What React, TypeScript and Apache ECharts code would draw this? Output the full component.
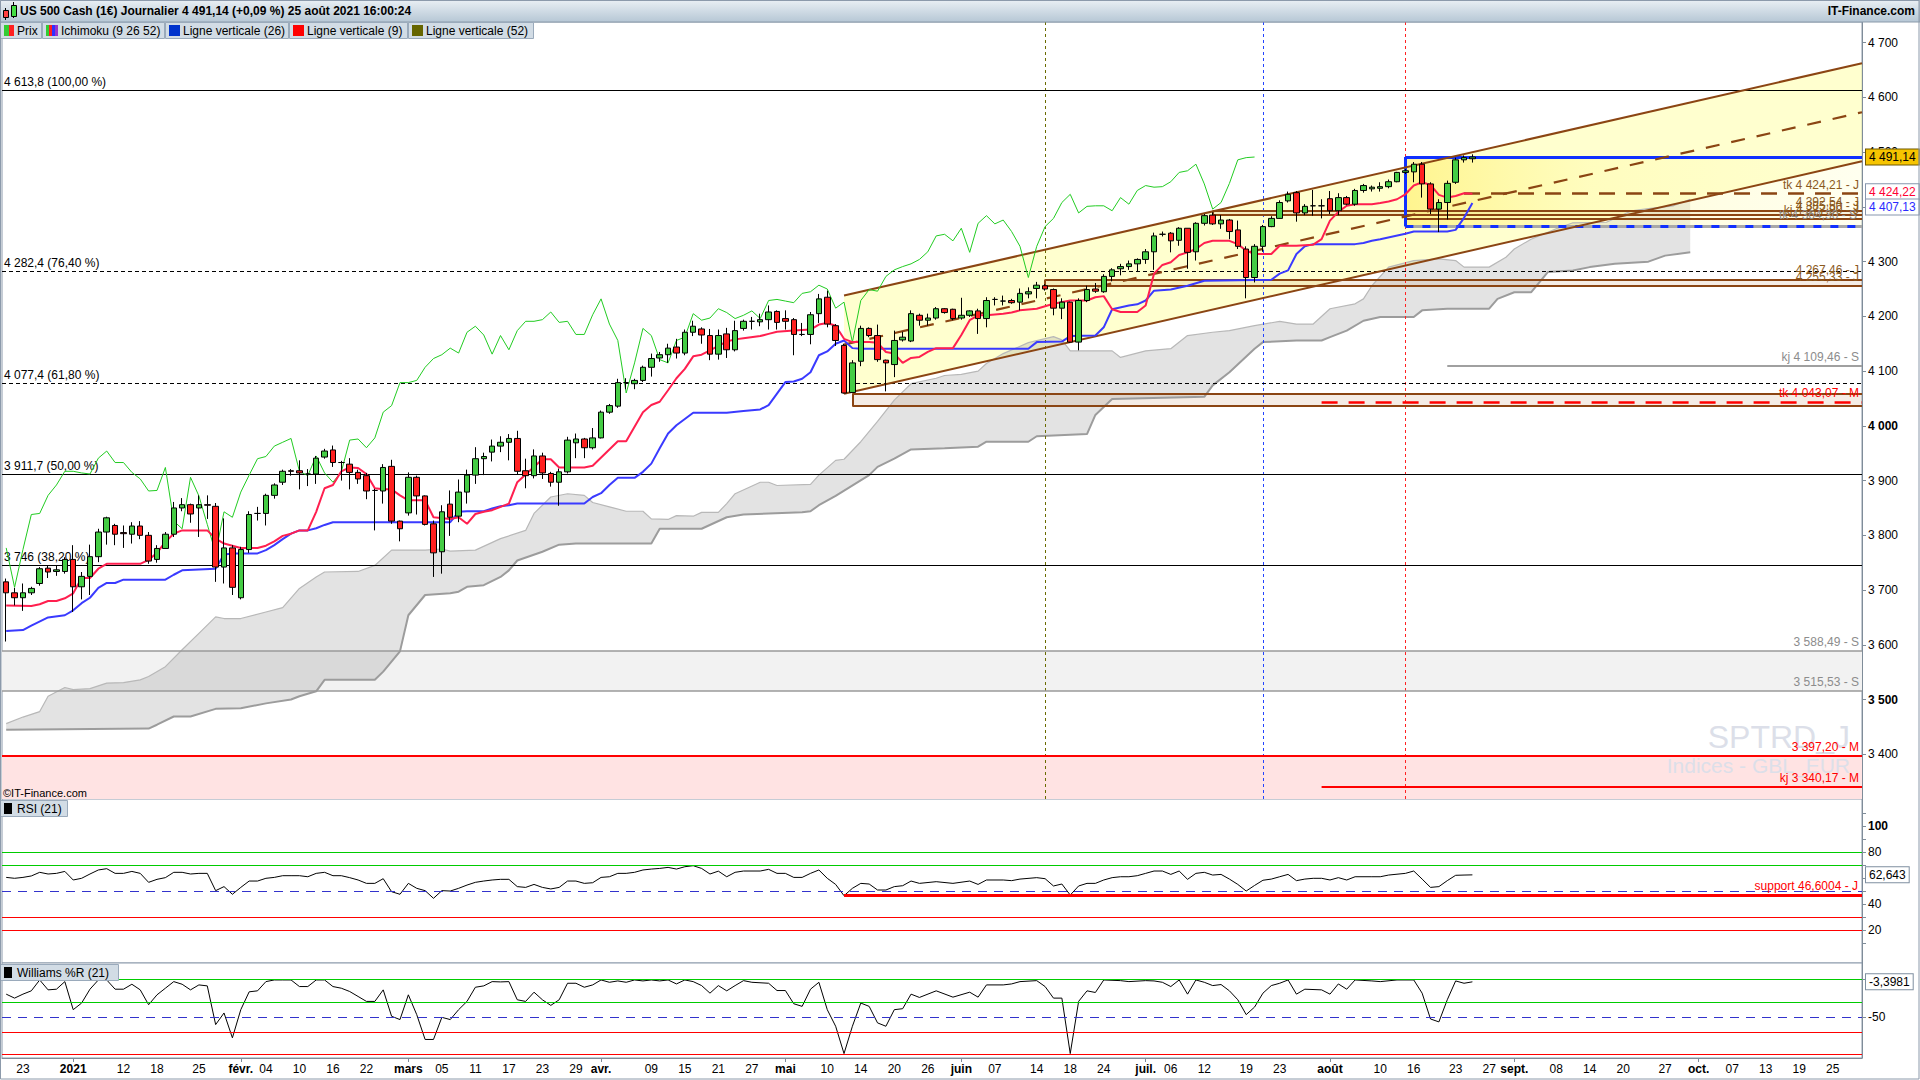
import React, { useEffect, useRef } from "react";
import * as echarts from "echarts";

const FONT = '"Liberation Sans", Arial, Helvetica, sans-serif';
const BROWN = "#8b4513";
const BROWN_TXT = "#8b5a1e";

// ---------- axis / calendar ----------
const HOLIDAYS = ["2020-12-25", "2021-01-01"];
const FIRST_DAY = [2020, 11, 21];
const LAST_DAY = [2021, 9, 28];
const FIRST_X = -2; // x index of 2020-12-21 (0 = 2020-12-23)
const X_MIN = -2.5;
const X_MAX = 219.5;
const CHIKOU_SHIFT = 26;

const dateTicks: [string, string, boolean][] = [
  ["2020-12-23", "23", false], ["2021-01-04", "2021", true], ["2021-01-12", "12", false], ["2021-01-18", "18", false], ["2021-01-25", "25", false],
  ["2021-02-01", "févr.", true], ["2021-02-04", "04", false], ["2021-02-10", "10", false], ["2021-02-16", "16", false], ["2021-02-22", "22", false],
  ["2021-03-01", "mars", true], ["2021-03-05", "05", false], ["2021-03-11", "11", false], ["2021-03-17", "17", false], ["2021-03-23", "23", false], ["2021-03-29", "29", false],
  ["2021-04-01", "avr.", true], ["2021-04-09", "09", false], ["2021-04-15", "15", false], ["2021-04-21", "21", false], ["2021-04-27", "27", false],
  ["2021-05-03", "mai", true], ["2021-05-10", "10", false], ["2021-05-14", "14", false], ["2021-05-20", "20", false], ["2021-05-26", "26", false],
  ["2021-06-01", "juin", true], ["2021-06-07", "07", false], ["2021-06-14", "14", false], ["2021-06-18", "18", false], ["2021-06-24", "24", false],
  ["2021-07-01", "juil.", true], ["2021-07-06", "06", false], ["2021-07-12", "12", false], ["2021-07-19", "19", false], ["2021-07-23", "23", false],
  ["2021-08-02", "août", true], ["2021-08-10", "10", false], ["2021-08-16", "16", false], ["2021-08-23", "23", false], ["2021-08-27", "27", false],
  ["2021-09-01", "sept.", true], ["2021-09-08", "08", false], ["2021-09-14", "14", false], ["2021-09-20", "20", false], ["2021-09-27", "27", false],
  ["2021-10-01", "oct.", true], ["2021-10-07", "07", false], ["2021-10-13", "13", false], ["2021-10-19", "19", false], ["2021-10-25", "25", false],
];

const priceTicks = [3400, 3500, 3600, 3700, 3800, 3900, 4000, 4100, 4200, 4300, 4400, 4500, 4600, 4700];
const priceBold = [3500, 4000];
const rsiTicks = [10, 20, 30, 40, 50, 60, 70, 80, 90, 100, 110];
const rsiLabels = [20, 40, 60, 80, 100];
const wrLabels = [0, -50];

// ---------- prices: [open, high, low, close] per trading day from 2020-12-21 ----------
const ohlc: number[][] = [
  [3715, 3721, 3606, 3695], [3695, 3704, 3672, 3686], [3686, 3712, 3662, 3695], [3695, 3706, 3691, 3703],
  [3712, 3742, 3708, 3739], [3740, 3745, 3722, 3733], [3734, 3745, 3726, 3737], [3734, 3760, 3730, 3756],
  [3756, 3782, 3660, 3706], [3706, 3733, 3683, 3725], [3725, 3783, 3691, 3761], [3761, 3812, 3751, 3806], [3806, 3834, 3783, 3832],
  [3818, 3821, 3782, 3802], [3805, 3818, 3777, 3803], [3802, 3824, 3785, 3817], [3817, 3826, 3793, 3800], [3800, 3806, 3748, 3753],
  [3756, 3782, 3750, 3776], [3776, 3806, 3776, 3802], [3802, 3861, 3797, 3850], [3850, 3868, 3844, 3856], [3856, 3858, 3823, 3839],
  [3850, 3873, 3797, 3856], [3856, 3873, 3830, 3855], [3853, 3859, 3715, 3742], [3742, 3831, 3712, 3777], [3777, 3782, 3691, 3705],
  [3686, 3779, 3683, 3774], [3774, 3844, 3768, 3838], [3840, 3852, 3827, 3840], [3840, 3876, 3818, 3873], [3873, 3895, 3867, 3892],
  [3897, 3920, 3892, 3917], [3918, 3921, 3909, 3917], [3918, 3937, 3884, 3914], [3912, 3921, 3890, 3912], [3912, 3945, 3894, 3941],
  [3943, 3958, 3940, 3954], [3956, 3964, 3925, 3933], [3933, 3936, 3900, 3933], [3930, 3941, 3884, 3915], [3915, 3920, 3894, 3903],
  [3909, 3914, 3866, 3881], [3882, 3885, 3809, 3882], [3881, 3930, 3858, 3924], [3926, 3938, 3821, 3826], [3826, 3827, 3789, 3812],
  [3841, 3915, 3836, 3906], [3906, 3909, 3838, 3872], [3872, 3873, 3818, 3820], [3821, 3827, 3724, 3768], [3770, 3855, 3730, 3843],
  [3857, 3882, 3799, 3833], [3835, 3902, 3824, 3879], [3879, 3920, 3858, 3910], [3910, 3961, 3894, 3940], [3940, 3951, 3910, 3944],
  [3952, 3975, 3935, 3963], [3963, 3981, 3952, 3970], [3970, 3985, 3937, 3977], [3977, 3991, 3912, 3917], [3918, 3940, 3886, 3909],
  [3909, 3957, 3904, 3945], [3945, 3951, 3903, 3914], [3913, 3916, 3889, 3897], [3897, 3922, 3854, 3916], [3916, 3980, 3913, 3974],
  [3969, 3986, 3941, 3976], [3976, 3978, 3941, 3960], [3960, 3996, 3957, 3978], [3978, 4028, 3977, 4025], [4025, 4040, 4022, 4037],
  [4036, 4086, 4033, 4079], [4079, 4087, 4067, 4079], [4077, 4086, 4067, 4083], [4083, 4110, 4080, 4107], [4107, 4132, 4090, 4123],
  [4124, 4135, 4117, 4130], [4130, 4150, 4115, 4142], [4144, 4159, 4123, 4133], [4133, 4176, 4129, 4171], [4171, 4192, 4164, 4182],
  [4177, 4180, 4150, 4166], [4165, 4177, 4120, 4131], [4131, 4176, 4121, 4165], [4168, 4179, 4124, 4139], [4139, 4192, 4136, 4174],
  [4178, 4194, 4174, 4191], [4191, 4199, 4176, 4191], [4190, 4205, 4182, 4194], [4194, 4220, 4176, 4208], [4209, 4211, 4176, 4189],
  [4196, 4211, 4176, 4191], [4194, 4197, 4129, 4167], [4167, 4188, 4164, 4167], [4167, 4208, 4149, 4203], [4205, 4241, 4188, 4232],
  [4235, 4247, 4180, 4186], [4183, 4186, 4146, 4156], [4147, 4150, 4059, 4060], [4061, 4120, 4061, 4115], [4118, 4183, 4109, 4178],
  [4178, 4180, 4162, 4165], [4165, 4185, 4117, 4121], [4120, 4121, 4063, 4115], [4112, 4174, 4089, 4156], [4157, 4172, 4154, 4162],
  [4155, 4211, 4153, 4205], [4202, 4205, 4183, 4193], [4193, 4205, 4183, 4197], [4197, 4217, 4194, 4214], [4214, 4215, 4205, 4207],
  [4213, 4214, 4193, 4196], [4197, 4234, 4194, 4202], [4202, 4211, 4199, 4210], [4210, 4214, 4168, 4196], [4196, 4235, 4180, 4229],
  [4231, 4235, 4220, 4231], [4228, 4238, 4220, 4228], [4229, 4232, 4223, 4225], [4226, 4251, 4211, 4242], [4241, 4253, 4233, 4245],
  [4251, 4263, 4233, 4257], [4256, 4259, 4247, 4250], [4249, 4251, 4202, 4215], [4215, 4233, 4195, 4226], [4226, 4227, 4152, 4153],
  [4153, 4233, 4138, 4229], [4229, 4256, 4226, 4249], [4250, 4261, 4243, 4246], [4245, 4277, 4243, 4273], [4273, 4288, 4264, 4285],
  [4287, 4296, 4275, 4291], [4291, 4302, 4285, 4296], [4296, 4306, 4281, 4304], [4304, 4323, 4296, 4318], [4318, 4353, 4285, 4347],
  [4350, 4355, 4346, 4350], [4352, 4354, 4317, 4338], [4339, 4363, 4329, 4361], [4361, 4361, 4287, 4317], [4318, 4372, 4302, 4370],
  [4370, 4387, 4366, 4384], [4385, 4390, 4367, 4369], [4369, 4385, 4360, 4376], [4376, 4378, 4341, 4355], [4358, 4375, 4323, 4328],
  [4323, 4328, 4233, 4271], [4271, 4332, 4262, 4328], [4328, 4367, 4318, 4364], [4364, 4383, 4363, 4379], [4379, 4412, 4378, 4408],
  [4411, 4428, 4408, 4423], [4426, 4429, 4373, 4389], [4389, 4405, 4385, 4401], [4402, 4431, 4384, 4402], [4402, 4414, 4379, 4402],
  [4415, 4429, 4387, 4393], [4393, 4425, 4385, 4417], [4417, 4420, 4403, 4405], [4405, 4433, 4402, 4430], [4430, 4442, 4426, 4439],
  [4433, 4439, 4428, 4436], [4434, 4445, 4428, 4437], [4437, 4450, 4434, 4446], [4446, 4464, 4445, 4463], [4463, 4469, 4460, 4466],
  [4464, 4482, 4445, 4478], [4478, 4482, 4417, 4442], [4442, 4445, 4387, 4396], [4396, 4414, 4354, 4408], [4408, 4448, 4377, 4443],
  [4445, 4490, 4442, 4486], [4486, 4494, 4481, 4490], [4488, 4496, 4481, 4491.14],
];

// ---------- Ichimoku (vertices, [x, value]) ----------
const tenkan = [
  [-2, 3672], [1, 3671], [2, 3674], [3, 3680], [4, 3680], [5, 3685], [6, 3694], [7, 3722], [8, 3722], [9, 3739], [10, 3748], [14, 3748],
  [15, 3755], [16, 3768], [17, 3788], [18, 3803], [19, 3809], [22, 3809], [23, 3794], [24, 3785], [26, 3777], [28, 3777], [29, 3781],
  [30, 3789], [31, 3799], [32, 3803], [33, 3809], [34, 3809], [35, 3843], [36, 3886], [37, 3892], [38, 3917], [39, 3924], [40, 3923],
  [41, 3912], [42, 3886], [43, 3884], [44, 3884], [45, 3873], [46, 3864], [48, 3864], [49, 3833], [51, 3830], [52, 3833], [53, 3821],
  [54, 3839], [55, 3843], [56, 3846], [58, 3858], [59, 3897], [60, 3911], [62, 3939], [63, 3939], [64, 3924], [67, 3924], [68, 3927],
  [71, 3972], [72, 3972], [74, 4025], [75, 4038], [76, 4044], [77, 4065], [78, 4087], [79, 4104], [80, 4127], [81, 4130], [82, 4138],
  [83, 4146], [84, 4154], [85, 4158], [86, 4160], [88, 4164], [89, 4168], [90, 4172], [92, 4174], [94, 4176], [95, 4185], [96, 4188],
  [97, 4183], [98, 4159], [99, 4153], [101, 4153], [102, 4152], [103, 4135], [104, 4132], [105, 4115], [106, 4124], [107, 4126],
  [108, 4135], [109, 4142], [111, 4142], [112, 4166], [113, 4193], [114, 4202], [115, 4202], [117, 4205], [118, 4207], [119, 4211],
  [121, 4214], [123, 4223], [125, 4229], [127, 4229], [128, 4235], [129, 4237], [130, 4213], [131, 4208], [133, 4208], [134, 4220],
  [135, 4278], [136, 4294], [137, 4299], [138, 4312], [139, 4317], [140, 4323], [141, 4334], [142, 4338], [144, 4338], [145, 4332],
  [146, 4320], [147, 4314], [149, 4314], [150, 4329], [152, 4329], [154, 4331], [155, 4341], [156, 4375], [157, 4391], [158, 4402],
  [159, 4405], [161, 4405], [162, 4407], [163, 4410], [164, 4414], [165, 4423], [166, 4439], [167, 4445], [168, 4440], [169, 4422],
  [170, 4417], [171, 4420], [172, 4425], [173, 4424.22],
];
const kijun = [
  [-2, 3625], [0, 3627], [1, 3635], [3, 3650], [5, 3654], [6, 3663], [7, 3676], [8, 3686], [9, 3704], [10, 3713], [11, 3713], [12, 3719],
  [17, 3719], [18, 3728], [19, 3736], [23, 3739], [24, 3765], [25, 3767], [28, 3767], [29, 3773], [30, 3782], [31, 3793], [32, 3803],
  [33, 3809], [34, 3809], [35, 3813], [36, 3819], [37, 3824], [51, 3824], [52, 3843], [53, 3844], [55, 3844], [56, 3849], [57, 3853],
  [58, 3855], [59, 3858], [67, 3858], [68, 3870], [69, 3877], [70, 3892], [71, 3905], [73, 3905], [74, 3916], [75, 3931], [76, 3959],
  [77, 3986], [78, 4001], [80, 4024], [84, 4024], [86, 4027], [88, 4030], [89, 4038], [90, 4059], [91, 4080], [92, 4081], [93, 4086],
  [94, 4098], [95, 4129], [96, 4136], [97, 4150], [98, 4156], [99, 4142], [100, 4141], [120, 4141], [121, 4153], [124, 4154], [125, 4164],
  [128, 4165], [129, 4180], [130, 4213], [132, 4220], [133, 4222], [134, 4229], [135, 4247], [137, 4249], [139, 4256], [141, 4265],
  [149, 4267], [150, 4278], [151, 4284], [152, 4314], [153, 4328], [154, 4332], [159, 4332], [160, 4334], [161, 4338], [162, 4341],
  [165, 4351], [166, 4355], [170, 4355], [171, 4358], [172, 4380], [173, 4407.13],
];
const cloudUpper = [
  [-2, 3456], [0, 3468], [2, 3478], [3, 3506], [5, 3522], [6, 3518], [8, 3520], [10, 3530], [12, 3531], [14, 3536], [15, 3542], [17, 3560],
  [19, 3591], [21, 3621], [23, 3651], [24, 3648], [26, 3648], [29, 3660], [31, 3668], [33, 3703], [35, 3724], [36, 3733], [40, 3734],
  [42, 3745], [44, 3773], [48, 3773], [50, 3775], [51, 3771], [54, 3773], [57, 3794], [60, 3809], [61, 3840], [63, 3870], [65, 3876],
  [67, 3873], [68, 3860], [70, 3852], [72, 3844], [74, 3844], [75, 3830], [77, 3829], [78, 3836], [80, 3835], [81, 3842], [83, 3842],
  [84, 3858], [85, 3876], [88, 3897], [89, 3897], [90, 3891], [94, 3893], [95, 3910], [97, 3937], [98, 3939], [100, 3971], [102, 4008],
  [104, 4047], [106, 4077], [109, 4087], [110, 4092], [112, 4094], [114, 4100], [115, 4114], [117, 4132], [120, 4152], [123, 4163],
  [124, 4157], [125, 4137], [130, 4137], [131, 4125], [134, 4137], [137, 4141], [139, 4165], [142, 4171], [144, 4174], [147, 4183],
  [150, 4191], [152, 4186], [154, 4186], [156, 4214], [159, 4223], [160, 4232], [161, 4256], [163, 4290], [166, 4302], [169, 4305],
  [171, 4302], [172, 4290], [175, 4290], [177, 4308], [178, 4323], [180, 4341], [183, 4360], [185, 4371], [189, 4372], [192, 4393],
  [194, 4397], [197, 4402], [199, 4414],
];
const cloudLower = [
  [-2, 3445], [15, 3447], [16, 3454], [18, 3469], [20, 3469], [23, 3483], [26, 3484], [29, 3493], [32, 3500], [33, 3506], [35, 3515],
  [36, 3536], [42, 3536], [43, 3551], [45, 3588], [46, 3654], [48, 3691], [51, 3694], [52, 3697], [53, 3706], [55, 3709], [57, 3724],
  [58, 3736], [59, 3754], [62, 3770], [64, 3783], [66, 3785], [75, 3785], [76, 3812], [81, 3812], [84, 3833], [86, 3838], [93, 3842],
  [94, 3844], [95, 3855], [97, 3872], [101, 3910], [102, 3925], [104, 3940], [106, 3957], [110, 3959], [114, 3962], [115, 3971],
  [120, 3971], [121, 3981], [127, 3985], [128, 4020], [130, 4049], [141, 4053], [142, 4074], [144, 4098], [147, 4141], [148, 4153],
  [152, 4156], [155, 4156], [156, 4162], [158, 4174], [160, 4192], [162, 4199], [166, 4199], [167, 4211], [170, 4214], [175, 4214],
  [176, 4232], [178, 4244], [180, 4244], [182, 4281], [185, 4284], [187, 4290], [190, 4296], [194, 4300], [196, 4311], [199, 4317],
];

// ---------- oscillators ----------
const rsi = [
  [-2, 60.7], [-1, 60], [0, 60.7], [1, 61.8], [2, 64.6], [3, 63.3], [4, 63.8], [5, 65.3], [6, 58.7], [7, 60], [8, 63.3], [9, 66.4], [10, 67.4],
  [11, 63.8], [12, 63.8], [13, 65.3], [14, 63.8], [15, 56.9], [16, 59.2], [17, 60.5], [18, 64.6], [19, 64.6], [20, 63.3], [21, 63.8],
  [22, 63.8], [23, 50.5], [24, 53.6], [25, 47.7], [26, 53], [27, 57.9], [28, 57.9], [29, 60], [30, 60.7], [31, 62], [32, 62], [33, 62],
  [34, 61.2], [35, 63.8], [36, 64.6], [37, 62], [38, 62], [39, 60.5], [40, 58.7], [41, 56.1], [42, 56.1], [43, 59.7], [44, 49.7], [45, 47.7],
  [46, 56.1], [47, 52.3], [48, 50.5], [49, 44.6], [50, 50.5], [51, 50.2], [52, 52.3], [53, 54.8], [54, 56.9], [55, 57.9], [56, 58.7],
  [57, 59.2], [58, 59.2], [59, 53.6], [60, 53], [61, 55.3], [62, 53], [63, 51.8], [64, 53], [65, 57.9], [66, 57.9], [67, 56.1], [68, 56.6],
  [69, 60.7], [70, 61.2], [71, 63.8], [72, 63.8], [73, 64.6], [74, 66.4], [75, 67.1], [76, 67.6], [77, 68.4], [78, 67.1], [79, 68.9],
  [80, 69.7], [81, 67.6], [82, 63.3], [83, 65.5], [84, 61.2], [85, 64.6], [86, 65.6], [88, 65.6], [89, 66.9], [90, 63.8], [91, 63.8],
  [92, 60.7], [93, 60.7], [94, 63.8], [95, 66.4], [96, 60], [97, 55.3], [98, 46.6], [99, 52.3], [100, 56.1], [101, 55.6], [102, 51],
  [103, 51], [104, 53.6], [105, 54.3], [106, 57.9], [107, 56.1], [109, 57.4], [111, 56.1], [113, 57.9], [114, 55.3], [115, 58.7],
  [117, 58.7], [118, 58.2], [119, 59.4], [121, 60.5], [122, 59.7], [123, 54.1], [124, 55.6], [125, 47.1], [126, 54.1], [127, 56.1],
  [128, 56.1], [129, 58.7], [130, 60.5], [131, 61.2], [132, 61.2], [133, 62], [134, 63.8], [135, 65.6], [136, 65.6], [137, 63], [138, 65.6],
  [139, 59.2], [140, 63.8], [141, 64.6], [142, 62.5], [143, 63], [144, 59.4], [145, 55.3], [146, 50.2], [147, 54.5], [148, 58.5],
  [149, 59.4], [150, 61.2], [151, 63], [152, 58.2], [153, 59.4], [154, 60], [155, 60], [156, 58.7], [157, 60.5], [158, 58.7], [159, 61.2],
  [161, 61.2], [162, 61.2], [163, 62.5], [165, 63.8], [166, 65.6], [167, 59.4], [168, 53], [169, 53.6], [170, 58.2], [171, 62.3],
  [172, 62.5], [173, 62.643],
];
const williams = [
  [-2, -19.8], [-1, -25.1], [0, -19.8], [1, -15.4], [2, -0.9], [3, -14.1], [4, -13.2], [5, -3.1], [6, -40.5], [7, -31.7], [8, -13.2],
  [9, -0.9], [10, -0.9], [11, -13.2], [12, -13.2], [13, -6.6], [14, -14.1], [15, -33.9], [16, -20.7], [17, -11.9], [18, -3.1], [19, -6.6],
  [20, -14.1], [21, -7.5], [22, -8.8], [23, -60.4], [24, -44.9], [25, -78], [26, -40.5], [27, -16.7], [28, -15.4], [29, -3.1], [30, -0.9],
  [31, -0.9], [32, -0.9], [33, -9.7], [34, -9.7], [35, -0.9], [36, -0.9], [37, -9.7], [38, -11.9], [39, -16.3], [40, -22.9], [41, -29.5],
  [42, -29.5], [43, -14.1], [44, -49.3], [45, -53.7], [46, -20.7], [47, -47.1], [48, -80.2], [49, -80.2], [50, -50.7], [51, -53.7],
  [52, -40.5], [53, -29.5], [54, -10.6], [55, -8.8], [56, -3.1], [57, -3.5], [58, -3.1], [59, -27.3], [60, -29.5], [61, -17.2], [62, -27.3],
  [63, -34.8], [64, -27.3], [65, -5.3], [66, -5.3], [67, -10.6], [68, -7.5], [69, -0.9], [70, -4], [71, -2.2], [72, -4], [73, -0.9],
  [74, -2.2], [75, -0.9], [76, -2.2], [77, -0.9], [78, -6.2], [79, -0.9], [80, -3.1], [81, -8.4], [82, -18.5], [83, -8.4], [84, -15.4],
  [85, -8.4], [86, -1.8], [87, -4], [89, -5.3], [90, -15], [91, -15], [92, -32.6], [93, -36.1], [94, -13.2], [95, -4], [96, -40.5],
  [97, -62.6], [98, -99], [99, -62.6], [100, -31.7], [101, -36.1], [102, -58.1], [103, -62.6], [104, -40.5], [105, -39.2], [106, -19.8],
  [107, -24.2], [109, -15.4], [111, -23.8], [113, -17.2], [114, -23.8], [115, -7.5], [117, -7.5], [118, -6.2], [119, -3.1], [121, -1.8],
  [122, -9.7], [123, -25.1], [124, -25.1], [125, -99], [126, -29.5], [127, -15.4], [128, -17.6], [129, -0.9], [131, -1.8], [132, -3.1],
  [134, -1.8], [135, -2.2], [136, -4], [137, -9.7], [138, -0.9], [139, -19.8], [140, -0.9], [141, -4], [142, -8.4], [143, -7], [144, -15.4],
  [145, -27.3], [146, -47.1], [147, -37], [148, -18.5], [149, -8.4], [150, -5.3], [151, -0.9], [152, -19.8], [153, -13.2], [155, -14.1],
  [156, -19.8], [157, -6.2], [158, -13.2], [159, -0.9], [161, -2.2], [162, -3.1], [164, -0.9], [166, -0.9], [167, -18.5], [168, -52.9],
  [169, -56.8], [170, -27.3], [171, -2.2], [172, -5.3], [173, -3.3981],
];

// ---------- drawn objects ----------
const channelUpper = [[98, 4238], [219.5, 4662.5]];
const channelMid = [[98, 4148.4], [219.5, 4572.9]];
const channelLower = [[98, 4058.8], [219.5, 4483.3]];

const fibLevels = [
  { value: 4613.8, text: "4 613,8 (100,00 %)", dashed: false },
  { value: 4282.4, text: "4 282,4 (76,40 %)", dashed: true },
  { value: 4077.4, text: "4 077,4 (61,80 %)", dashed: true },
  { value: 3911.7, text: "3 911,7 (50,00 %)", dashed: false },
  { value: 3746.0, text: "3 746 (38,20 %)", dashed: false },
];
const supportBand = { hi: 3588.49, lo: 3515.53, hiText: "3 588,49 - S", loText: "3 515,53 - S" };
const monthBand = { value: 3397.2, text: "3 397,20 - M" };
const segments = [
  { from: 155, value: 3340.17, text: "kj 3 340,17 - M", color: "#ff0000", textColor: "#ff0000", width: 2, dash: null },
  { from: 155, value: 4043.07, text: "tk 4 043,07 - M", color: "#ff0000", textColor: "#ff0000", width: 2.5, dash: [16, 11] },
  { from: 170, value: 4109.46, text: "kj 4 109,46 - S", color: "#a0a0a0", textColor: "#8c8c8c", width: 2, dash: null },
  { from: 165, value: 4377.9, text: "kj 4 377,90 - J", color: BROWN, textColor: BROWN_TXT, width: 2, dash: null },
  { from: 172, value: 4424.21, text: "tk 4 424,21 - J", color: BROWN, textColor: BROWN_TXT, width: 2.5, dash: [16, 11] },
];
const boxes = [
  { from: 99, lo: 4036, hi: 4059, loText: "", hiText: "" },
  { from: 122, lo: 4255.33, hi: 4267.46, loText: "4 255,33 - J", hiText: "4 267,46 - J" },
  { from: 142, lo: 4385.5, hi: 4392.54, loText: "4 385,50 - J", hiText: "4 392,54 - J" },
];
const lastBox = { from: 165, lo: 4364.3, hi: 4491.14, loText: "tk 4 364,30 - S" };
const verticalLines = [
  { x: 122, color: "#6b6b00" },
  { x: 148, color: "#2244ff" },
  { x: 165, color: "#ff2222" },
];
const priceTags = [
  { value: 4491.14, text: "4 491,14", color: "#000", bg: "#f6c400", border: "#6e5800", dy: 0 },
  { value: 4424.22, text: "4 424,22", color: "#ff0033", bg: "#ffffff", border: "#8796ad", dy: -2 },
  { value: 4407.13, text: "4 407,13", color: "#2b2bff", bg: "#ffffff", border: "#8796ad", dy: 4 },
];
const rsiTag = { value: 62.643, text: "62,643" };
const wrTag = { value: -3.3981, text: "-3,3981" };
const rsiLevels = [
  { value: 80, color: "#00cc00", dash: null }, { value: 70, color: "#00cc00", dash: null },
  { value: 50, color: "#3333cc", dash: [9, 7] },
  { value: 30, color: "#ff0000", dash: null }, { value: 20, color: "#ff0000", dash: null },
];
const rsiSupport = { from: 98, value: 46.6004, text: "support 46,6004 - J" };
const wrLevels = [
  { value: 0, color: "#00cc00", dash: null }, { value: -30, color: "#00cc00", dash: null },
  { value: -50, color: "#3333cc", dash: [9, 7] },
  { value: -70, color: "#ff0000", dash: null }, { value: -100, color: "#ff0000", dash: null },
];

const legendItems = [
  { x0: 0, x1: 41, text: "Prix", icons: ["#33cc33", "#ff2020"], w: 5 },
  { x0: 42, x1: 164, text: "Ichimoku (9 26 52)", icons: ["#33cc33", "#ff2020", "#3030ff", "#9933cc"], w: 3 },
  { x0: 165, x1: 288, text: "Ligne verticale (26)", icons: ["#0033cc"], w: 11 },
  { x0: 289, x1: 407, text: "Ligne verticale (9)", icons: ["#ff0000"], w: 11 },
  { x0: 408, x1: 533, text: "Ligne verticale (52)", icons: ["#666600"], w: 11 },
];

// ---------- helpers ----------
function buildDays(): string[] {
  const out: string[] = [];
  const d = new Date(Date.UTC(FIRST_DAY[0], FIRST_DAY[1], FIRST_DAY[2]));
  const end = Date.UTC(LAST_DAY[0], LAST_DAY[1], LAST_DAY[2]);
  while (d.getTime() <= end) {
    const wd = d.getUTCDay();
    const s = d.toISOString().slice(0, 10);
    if (wd !== 0 && wd !== 6 && HOLIDAYS.indexOf(s) < 0) out.push(s);
    d.setUTCDate(d.getUTCDate() + 1);
  }
  return out;
}
function thousands(v: number): string {
  const s = String(Math.round(v));
  return s.length > 3 ? s.slice(0, -3) + " " + s.slice(-3) : s;
}
const lbl = (text: string, color: string, position: string, extra: any = {}) => ({
  show: true, formatter: text, color, position, fontSize: 12, fontFamily: FONT, distance: 3, ...extra,
});
const seg = (x0: number, v: number, lineStyle: any, label?: any) => [
  { coord: [x0, v], lineStyle, label: label || { show: false } },
  { coord: [X_MAX, v] },
];
const vseg = (x: number, lo: number, hi: number, lineStyle: any) => [
  { coord: [x, lo], lineStyle, label: { show: false } },
  { coord: [x, hi] },
];
const tagSeg = (v: number, text: string, color: string, bg: string, border: string, dy: number) => [
  {
    coord: [X_MAX - 0.01, v],
    lineStyle: { color: "rgba(0,0,0,0)", width: 1 },
    label: {
      show: true, position: "end", formatter: text, color, fontSize: 12, fontFamily: FONT,
      backgroundColor: bg, borderColor: border, borderWidth: 1, padding: [2, 3, 1, 3], distance: 4, offset: [0, dy],
    },
  },
  { coord: [X_MAX, v] },
];
const polygonSeries = (upper: number[][], lower: number[][], fill: any, z: number) => ({
  type: "custom", xAxisIndex: 0, yAxisIndex: 0, z, silent: true,
  data: [[upper[0][0], upper[0][1]]],
  renderItem: (_p: any, api: any) => {
    const pts = upper.map((p) => api.coord(p)).concat(lower.slice().reverse().map((p) => api.coord(p)));
    return { type: "polygon", shape: { points: pts }, style: { fill } };
  },
});
const plainLine = (data: any, color: string, width: number, z: number, xi = 0, yi = 0, extra: any = {}) => ({
  type: "line", xAxisIndex: xi, yAxisIndex: yi, data, z, silent: true,
  showSymbol: false, symbol: "none", lineStyle: { color, width }, ...extra,
});

function buildOption() {
  const days = buildDays();
  const tickMap = new Map<string, [string, string, boolean]>();
  dateTicks.forEach((t) => tickMap.set(t[0], t));

  const candles = ohlc.map((r, k) => [k + FIRST_X, r[0], r[3], r[2], r[1]]);
  const chikou = ohlc
    .map((r, k) => [k + FIRST_X - CHIKOU_SHIFT, r[3]])
    .filter((p) => p[0] >= FIRST_X);

  // main panel horizontal levels / segments
  const mainLines: any[] = [];
  fibLevels.forEach((f) =>
    mainLines.push({
      yAxis: f.value,
      lineStyle: { color: "#000", width: 1, type: f.dashed ? [4, 3] : "solid" },
      label: lbl(f.text, "#000", "insideStartTop", { distance: 2 }),
    })
  );
  mainLines.push({ yAxis: supportBand.hi, lineStyle: { color: "#9a9a9a", width: 1.5, type: "solid" }, label: lbl(supportBand.hiText, "#8c8c8c", "insideEndTop") });
  mainLines.push({ yAxis: supportBand.lo, lineStyle: { color: "#9a9a9a", width: 1.5, type: "solid" }, label: lbl(supportBand.loText, "#8c8c8c", "insideEndTop") });
  mainLines.push({ yAxis: monthBand.value, lineStyle: { color: "#ff0000", width: 2, type: "solid" }, label: lbl(monthBand.text, "#ff0000", "insideEndTop") });
  segments.forEach((s) =>
    mainLines.push(seg(s.from, s.value, { color: s.color, width: s.width, type: s.dash || "solid" }, lbl(s.text, s.textColor, "insideEndTop")))
  );
  boxes.forEach((b) => {
    const st = { color: BROWN, width: 2, type: "solid" };
    mainLines.push(seg(b.from, b.hi, st, b.hiText ? lbl(b.hiText, BROWN_TXT, "insideEndTop") : undefined));
    mainLines.push(seg(b.from, b.lo, st, b.loText ? lbl(b.loText, BROWN_TXT, "insideEndTop") : undefined));
    mainLines.push(vseg(b.from, b.lo, b.hi, st));
  });
  // last-bar blue box
  mainLines.push(seg(lastBox.from, lastBox.lo, { color: "#a8a8a8", width: 3, type: "solid" }, lbl(lastBox.loText, "#8c8c8c", "insideEndTop", { distance: 5 })));
  mainLines.push(seg(lastBox.from, lastBox.lo, { color: "#1030ff", width: 3, type: [8, 9] }));
  mainLines.push(seg(lastBox.from, lastBox.hi, { color: "#1030ff", width: 3, type: "solid" }));
  mainLines.push(vseg(lastBox.from, lastBox.lo, lastBox.hi, { color: "#1030ff", width: 3, type: "solid" }));

  const vLines = verticalLines.map((v) => ({ xAxis: v.x, lineStyle: { color: v.color, width: 1, type: [3, 3] }, label: { show: false } }));
  const tags = priceTags.map((t) => tagSeg(t.value, t.text, t.color, t.bg, t.border, t.dy));

  const bandAreas = [
    [{ yAxis: supportBand.hi, itemStyle: { color: "#f2f2f2" } }, { yAxis: supportBand.lo }],
    [{ yAxis: monthBand.value, itemStyle: { color: "#ffe3e3" } }, { yAxis: 3318.3 }],
  ];
  const boxAreas: any[] = boxes.map((b) => [
    { coord: [b.from, b.hi], itemStyle: { color: "rgba(196,150,110,0.18)" } },
    { coord: [X_MAX, b.lo] },
  ]);
  boxAreas.push([
    {
      coord: [lastBox.from, lastBox.hi],
      itemStyle: {
        color: new echarts.graphic.LinearGradient(0, 0, 1, 0, [
          { offset: 0, color: "rgba(255,236,90,0.55)" },
          { offset: 0.4, color: "rgba(255,250,170,0.45)" },
          { offset: 1, color: "rgba(255,255,210,0.35)" },
        ]),
      },
    },
    { coord: [X_MAX, lastBox.lo] },
  ]);

  const levelLine = (lv: any) => ({ yAxis: lv.value, lineStyle: { color: lv.color, width: 1, type: lv.dash || "solid" }, label: { show: false } });

  const rsiMarks: any[] = rsiLevels.map(levelLine);
  rsiMarks.push(seg(rsiSupport.from, rsiSupport.value, { color: "#ff0000", width: 3, type: "solid" }, lbl(rsiSupport.text, "#ff0000", "insideEndTop", { distance: 4 })));
  rsiMarks.push(tagSeg(rsiTag.value, rsiTag.text, "#000", "#fff", "#7f8fa0", 0));
  const wrMarks: any[] = wrLevels.map(levelLine);
  wrMarks.push(tagSeg(wrTag.value, wrTag.text, "#000", "#fff", "#7f8fa0", 0));

  const axisColor = "#7f8c99";
  const yBase = (gridIndex: number, min: number, max: number, ticks: number[], labels: number[], fmt: (v: number) => string) => ({
    type: "value", gridIndex, position: "right", min, max, splitLine: { show: false },
    axisLine: { show: true, onZero: false, lineStyle: { color: axisColor } },
    axisTick: { show: true, length: 4, customValues: ticks, lineStyle: { color: axisColor } },
    axisLabel: {
      show: true, customValues: labels, margin: 6, color: "#000", fontSize: 12, fontFamily: FONT, formatter: fmt,
      rich: { b: { fontWeight: "bold", fontSize: 12, color: "#000", fontFamily: FONT } },
    },
  });

  // ---- graphics: header, legends, watermark ----
  const g: any[] = [];
  g.push({ type: "rect", z: 100, shape: { x: 0, y: 0, width: 1920, height: 22 }, style: { fill: new echarts.graphic.LinearGradient(0, 0, 0, 1, [{ offset: 0, color: "#e9eff4" }, { offset: 1, color: "#b6c7d5" }]), stroke: "#8a9aaa", lineWidth: 1 } });
  g.push({ type: "line", z: 101, shape: { x1: 5.5, y1: 8, x2: 5.5, y2: 20 }, style: { stroke: "#000", lineWidth: 1 } });
  g.push({ type: "rect", z: 102, shape: { x: 3.5, y: 10.5, width: 5, height: 7 }, style: { fill: "#ff4040", stroke: "#000", lineWidth: 1 } });
  g.push({ type: "line", z: 101, shape: { x1: 13.5, y1: 2, x2: 13.5, y2: 18 }, style: { stroke: "#000", lineWidth: 1 } });
  g.push({ type: "rect", z: 102, shape: { x: 11.5, y: 5.5, width: 5, height: 11 }, style: { fill: "#44dd44", stroke: "#000", lineWidth: 1 } });
  g.push({ type: "text", z: 102, x: 20, y: 11, style: { text: "US 500 Cash (1€) Journalier 4 491,14 (+0,09 %) 25 août 2021 16:00:24", fill: "#000", fontSize: 12, fontWeight: "bold", fontFamily: FONT, verticalAlign: "middle", align: "left" } });
  g.push({ type: "text", z: 102, x: 1915, y: 11, style: { text: "IT-Finance.com", fill: "#000", fontSize: 12, fontWeight: "bold", fontFamily: FONT, verticalAlign: "middle", align: "right" } });
  legendItems.forEach((it) => {
    g.push({ type: "rect", z: 100, shape: { x: it.x0 + 0.5, y: 22.5, width: it.x1 - it.x0, height: 16 }, style: { fill: "#d2dce5", stroke: "#9aaabb", lineWidth: 1 } });
    it.icons.forEach((c, j) => {
      g.push({ type: "rect", z: 101, shape: { x: it.x0 + 4 + j * it.w, y: 25, width: it.w, height: 11 }, style: { fill: c } });
    });
    g.push({ type: "text", z: 101, x: it.x0 + 7 + it.icons.length * it.w, y: 31, style: { text: it.text, fill: "#000", fontSize: 12, fontFamily: FONT, verticalAlign: "middle", align: "left" } });
  });
  const panelLegend = (y: number, w: number, text: string) => {
    g.push({ type: "rect", z: 100, shape: { x: 0.5, y: y + 0.5, width: w, height: 16 }, style: { fill: "#d2dce5", stroke: "#9aaabb", lineWidth: 1 } });
    g.push({ type: "rect", z: 101, shape: { x: 4, y: y + 3, width: 8, height: 11 }, style: { fill: "#000" } });
    g.push({ type: "text", z: 101, x: 17, y: y + 9, style: { text, fill: "#000", fontSize: 12, fontFamily: FONT, verticalAlign: "middle", align: "left" } });
  };
  panelLegend(800, 67, "RSI (21)");
  panelLegend(964, 118, "Williams %R (21)");
  g.push({ type: "text", z: 2, x: 1850, y: 737, style: { text: "SPTRD_J", fill: "#dcdfe9", fontSize: 32, fontFamily: FONT, verticalAlign: "middle", align: "right" } });
  g.push({ type: "text", z: 2, x: 1850, y: 765, style: { text: "Indices - GBL_EUR", fill: "#dcdfe9", fontSize: 21, fontFamily: FONT, verticalAlign: "middle", align: "right" } });
  g.push({ type: "text", z: 100, x: 3, y: 793, style: { text: "©IT-Finance.com", fill: "#000", fontSize: 11, fontFamily: FONT, verticalAlign: "middle", align: "left" } });
  g.push({ type: "rect", z: 120, shape: { x: 0.5, y: 0.5, width: 1918.5, height: 1078.5 }, style: { fill: "none", stroke: "#8c9aab", lineWidth: 1 } });

  return {
    animation: false,
    backgroundColor: "#ffffff",
    textStyle: { fontFamily: FONT },
    grid: [
      { left: 2, right: 58, top: 22, height: 777, show: true, borderColor: "#8c9aab", borderWidth: 1, backgroundColor: "#fff" },
      { left: 2, right: 58, top: 799, height: 164, show: true, borderColor: "#8c9aab", borderWidth: 1, backgroundColor: "#fff" },
      { left: 2, right: 58, top: 963, height: 95, show: true, borderColor: "#8c9aab", borderWidth: 1, backgroundColor: "#fff" },
    ],
    xAxis: [
      { type: "value", gridIndex: 0, min: X_MIN, max: X_MAX, show: false, axisLine: { onZero: false } },
      { type: "value", gridIndex: 1, min: X_MIN, max: X_MAX, show: false, axisLine: { onZero: false } },
      { type: "value", gridIndex: 2, min: X_MIN, max: X_MAX, show: false, position: "top", axisLine: { onZero: false } },
      {
        type: "category", gridIndex: 2, data: days, position: "bottom", boundaryGap: true,
        axisLine: { show: true, onZero: false, lineStyle: { color: axisColor } },
        axisTick: { show: true, alignWithLabel: true, length: 4, interval: (_i: number, v: string) => !!(tickMap.get(v) && tickMap.get(v)![2]), lineStyle: { color: axisColor } },
        axisLabel: {
          show: true, interval: (_i: number, v: string) => tickMap.has(v), margin: 5, color: "#000", fontSize: 12, fontFamily: FONT, hideOverlap: false,
          formatter: (v: string) => { const t = tickMap.get(v); if (!t) return ""; return t[2] ? "{b|" + t[1] + "}" : t[1]; },
          rich: { b: { fontWeight: "bold", fontSize: 12, color: "#000", fontFamily: FONT } },
        },
        splitLine: { show: false },
      },
    ],
    yAxis: [
      yBase(0, 3318.3, 4737.8, priceTicks, priceTicks, (v: number) => (priceBold.indexOf(v) >= 0 ? "{b|" + thousands(v) + "}" : thousands(v))),
      yBase(1, -5.15, 121, rsiTicks, rsiLabels, (v: number) => (v === 100 ? "{b|100}" : String(v))),
      yBase(2, -104.9, 21.7, wrLabels, wrLabels, (v: number) => String(v)),
    ],
    series: [
      // background bands
      plainLine(cloudUpper, "#b8b8b8", 1.2, 5, 0, 0, { markArea: { silent: true, z: 1, data: bandAreas } }),
      polygonSeries(channelUpper, channelLower, "rgba(255,255,175,0.6)", 2),
      polygonSeries(cloudUpper, cloudLower, "rgba(150,150,150,0.27)", 3),
      plainLine(cloudLower, "#9c9c9c", 2, 5, 0, 0, { markArea: { silent: true, z: 4, data: boxAreas } }),
      // regression channel
      plainLine(channelUpper, BROWN, 2, 6),
      plainLine(channelLower, BROWN, 2, 6, 0, 0, { markLine: { silent: true, z: 20, symbol: ["none", "none"], data: tags } }),
      plainLine(channelMid, BROWN, 2, 6, 0, 0, { lineStyle: { color: BROWN, width: 2.2, type: [14, 12] } }),
      // ichimoku
      plainLine(chikou, "#22cc22", 1, 7),
      plainLine(kijun, "#3a3aff", 2, 7, 0, 0, { markLine: { silent: true, z: 6, symbol: ["none", "none"], data: vLines } }),
      plainLine(tenkan, "#ff1f4f", 2, 7, 0, 0, { markLine: { silent: true, z: 6, symbol: ["none", "none"], data: mainLines } }),
      // candles
      {
        type: "candlestick", xAxisIndex: 0, yAxisIndex: 0, z: 8, silent: true,
        encode: { x: 0, y: [1, 2, 3, 4] },
        barWidth: 6,
        data: candles,
        itemStyle: { color: "#44cc44", color0: "#ff2020", borderColor: "#000", borderColor0: "#000", borderColorDoji: "#000", borderWidth: 1 },
      },
      // oscillators
      plainLine(rsi, "#000", 1, 5, 1, 1, { markLine: { silent: true, z: 20, symbol: ["none", "none"], data: rsiMarks } }),
      plainLine(williams, "#000", 1, 5, 2, 2, { markLine: { silent: true, z: 20, symbol: ["none", "none"], data: wrMarks } }),
    ],
    graphic: { elements: g },
  };
}

export default function App() {
  const ref = useRef<HTMLDivElement>(null);
  useEffect(() => {
    document.body.style.margin = "0";
    const chart = echarts.init(ref.current!, null, { renderer: "svg" });
    chart.setOption(buildOption() as any);
    return () => chart.dispose();
  }, []);
  return <div ref={ref} style={{ width: 1920, height: 1080 }} />;
}
